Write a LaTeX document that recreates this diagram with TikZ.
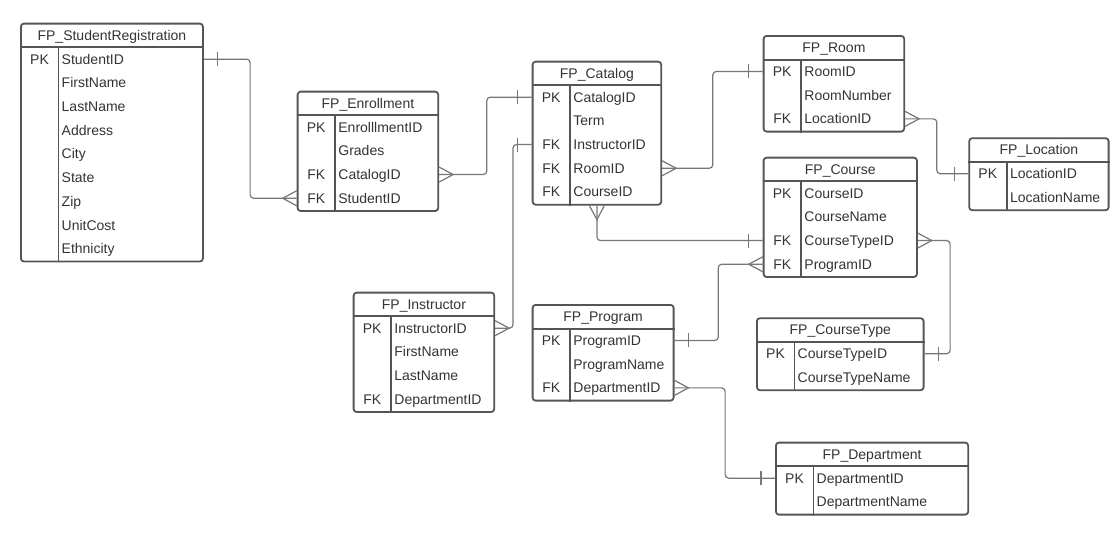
\documentclass[tikz,border=0pt]{standalone}
\usepackage{fontspec}
\setmainfont{Liberation Sans}
\usetikzlibrary{calc}

\definecolor{boxline}{HTML}{555555}
\definecolor{linkline}{HTML}{777777}
\definecolor{txt}{HTML}{333333}

\tikzset{
    tbl/.style={draw=boxline, line width=1.8pt, rounded corners=3pt, inner sep=0pt, anchor=north west},
    tblrule/.style={draw=boxline, line width=1.8pt},
    cell/.style={inner sep=0pt, text height=10pt, text depth=0pt, text=txt, font=\fontsize{14}{16}\selectfont},
    conn/.style={draw=linkline, line width=1.2pt, rounded corners=3.5pt},
    pics/one/.style={code={\draw[conn] (14pt,-7pt) -- (14pt,7pt);}},
    pics/many/.style={code={\draw[conn, sharp corners] (0pt,7.5pt) -- (14pt,0pt) -- (0pt,-7.5pt);}},
}

\begin{document}
\begin{tikzpicture}[x=1pt, y=1pt]
    \useasboundingbox (0,0) rectangle (1118,-539);

    % tables: name/left/top/width/rows/title/{key/field,...}
    \foreach \nm/\x/\y/\w/\n/\ttl/\rows in {
        sreg/20/22.7/182/9/StudentRegistration/{PK/StudentID,/FirstName,/LastName,/Address,/City,/State,/Zip,/UnitCost,/Ethnicity},
        enr/296.7/90.7/140.6/4/Enrollment/{PK/EnrolllmentID,/Grades,FK/CatalogID,FK/StudentID},
        cat/531.7/60.7/128.6/5/Catalog/{PK/CatalogID,/Term,FK/InstructorID,FK/RoomID,FK/CourseID},
        room/762.7/35/140.6/3/Room/{PK/RoomID,/RoomNumber,FK/LocationID},
        loc/968.3/137.3/139.4/2/Location/{PK/LocationID,/LocationName},
        crs/762.7/156.7/153.3/4/Course/{PK/CourseID,/CourseName,FK/CourseTypeID,FK/ProgramID},
        ctype/756/317.3/166.7/2/CourseType/{PK/CourseTypeID,/CourseTypeName},
        ins/352.7/291.7/140.6/4/Instructor/{PK/InstructorID,/FirstName,/LastName,FK/DepartmentID},
        prog/531.7/304/141/3/Program/{PK/ProgramID,/ProgramName,FK/DepartmentID},
        dept/775/441.7/192.3/2/Department/{PK/DepartmentID,/DepartmentName}%
    }{
        \node[tbl, minimum width=\w, minimum height={24.6+\n*23.7}] (\nm) at (\x,-\y) {};
        \draw[tblrule] ([yshift=-24.6]\nm.north west) -- ([yshift=-24.6]\nm.north east);
        \draw[tblrule] ([xshift=38.5,yshift=-24.6]\nm.north west) -- ([xshift=38.5]\nm.south west);
        \node[cell] (\nm-title) at ([yshift=-12.3]\nm.north) {FP\_\ttl};
        \foreach \k/\f [count=\i] in \rows {
            \node[cell] (\nm-key\i) at ([xshift=19.5,yshift={-24.6-(\i-0.5)*23.7}]\nm.north west) {\k};
            \node[cell, anchor=west] (\nm-\i) at ([xshift=41.5,yshift={-24.6-(\i-0.5)*23.7}]\nm.north west) {\f};
        }
    }

    % StudentRegistration -- Enrollment
    \draw[conn] (sreg.east |- sreg-1) -- ++(46.3,0) |- (enr.west |- enr-4);
    \pic at (sreg.east |- sreg-1) {one};
    \pic[rotate=180] at (enr.west |- enr-4) {many};

    % Enrollment -- Catalog
    \draw[conn] (enr.east |- enr-3) -- ++(47.7,0) |- (cat.west |- cat-1);
    \pic at (enr.east |- enr-3) {many};
    \pic[rotate=180] at (cat.west |- cat-1) {one};

    % Catalog -- Instructor
    \draw[conn] (cat.west |- cat-3) -- ++(-18.7,0) |- (ins.east |- ins-1);
    \pic[rotate=180] at (cat.west |- cat-3) {one};
    \pic at (ins.east |- ins-1) {many};

    % Catalog -- Room
    \draw[conn] (cat.east |- cat-4) -- ++(50.7,0) |- (room.west |- room-1);
    \pic at (cat.east |- cat-4) {many};
    \pic[rotate=180] at (room.west |- room-1) {one};

    % Catalog -- Course
    \draw[conn] (cat.south) |- (crs.west |- crs-3);
    \pic[rotate=-90] at (cat.south) {many};
    \pic[rotate=180] at (crs.west |- crs-3) {one};

    % Room -- Location
    \draw[conn] (room.east |- room-3) -- ++(31.7,0) |- (loc.west |- loc-1);
    \pic at (room.east |- room-3) {many};
    \pic[rotate=180] at (loc.west |- loc-1) {one};

    % Course -- CourseType
    \draw[conn] (crs.east |- crs-3) -- ++(32.3,0) |- (ctype.east |- ctype-1);
    \pic at (crs.east |- crs-3) {many};
    \pic at (ctype.east |- ctype-1) {one};

    % Course -- Program
    \draw[conn] (crs.west |- crs-4) -- ++(-44.4,0) |- (prog.east |- prog-1);
    \pic[rotate=180] at (crs.west |- crs-4) {many};
    \pic at (prog.east |- prog-1) {one};

    % Program -- Department
    \draw[conn] (prog.east |- prog-3) -- ++(50.6,0) |- (dept.west |- dept-1);
    \pic at (prog.east |- prog-3) {many};
    \pic[rotate=180] at (dept.west |- dept-1) {one};
\end{tikzpicture}
\end{document}
